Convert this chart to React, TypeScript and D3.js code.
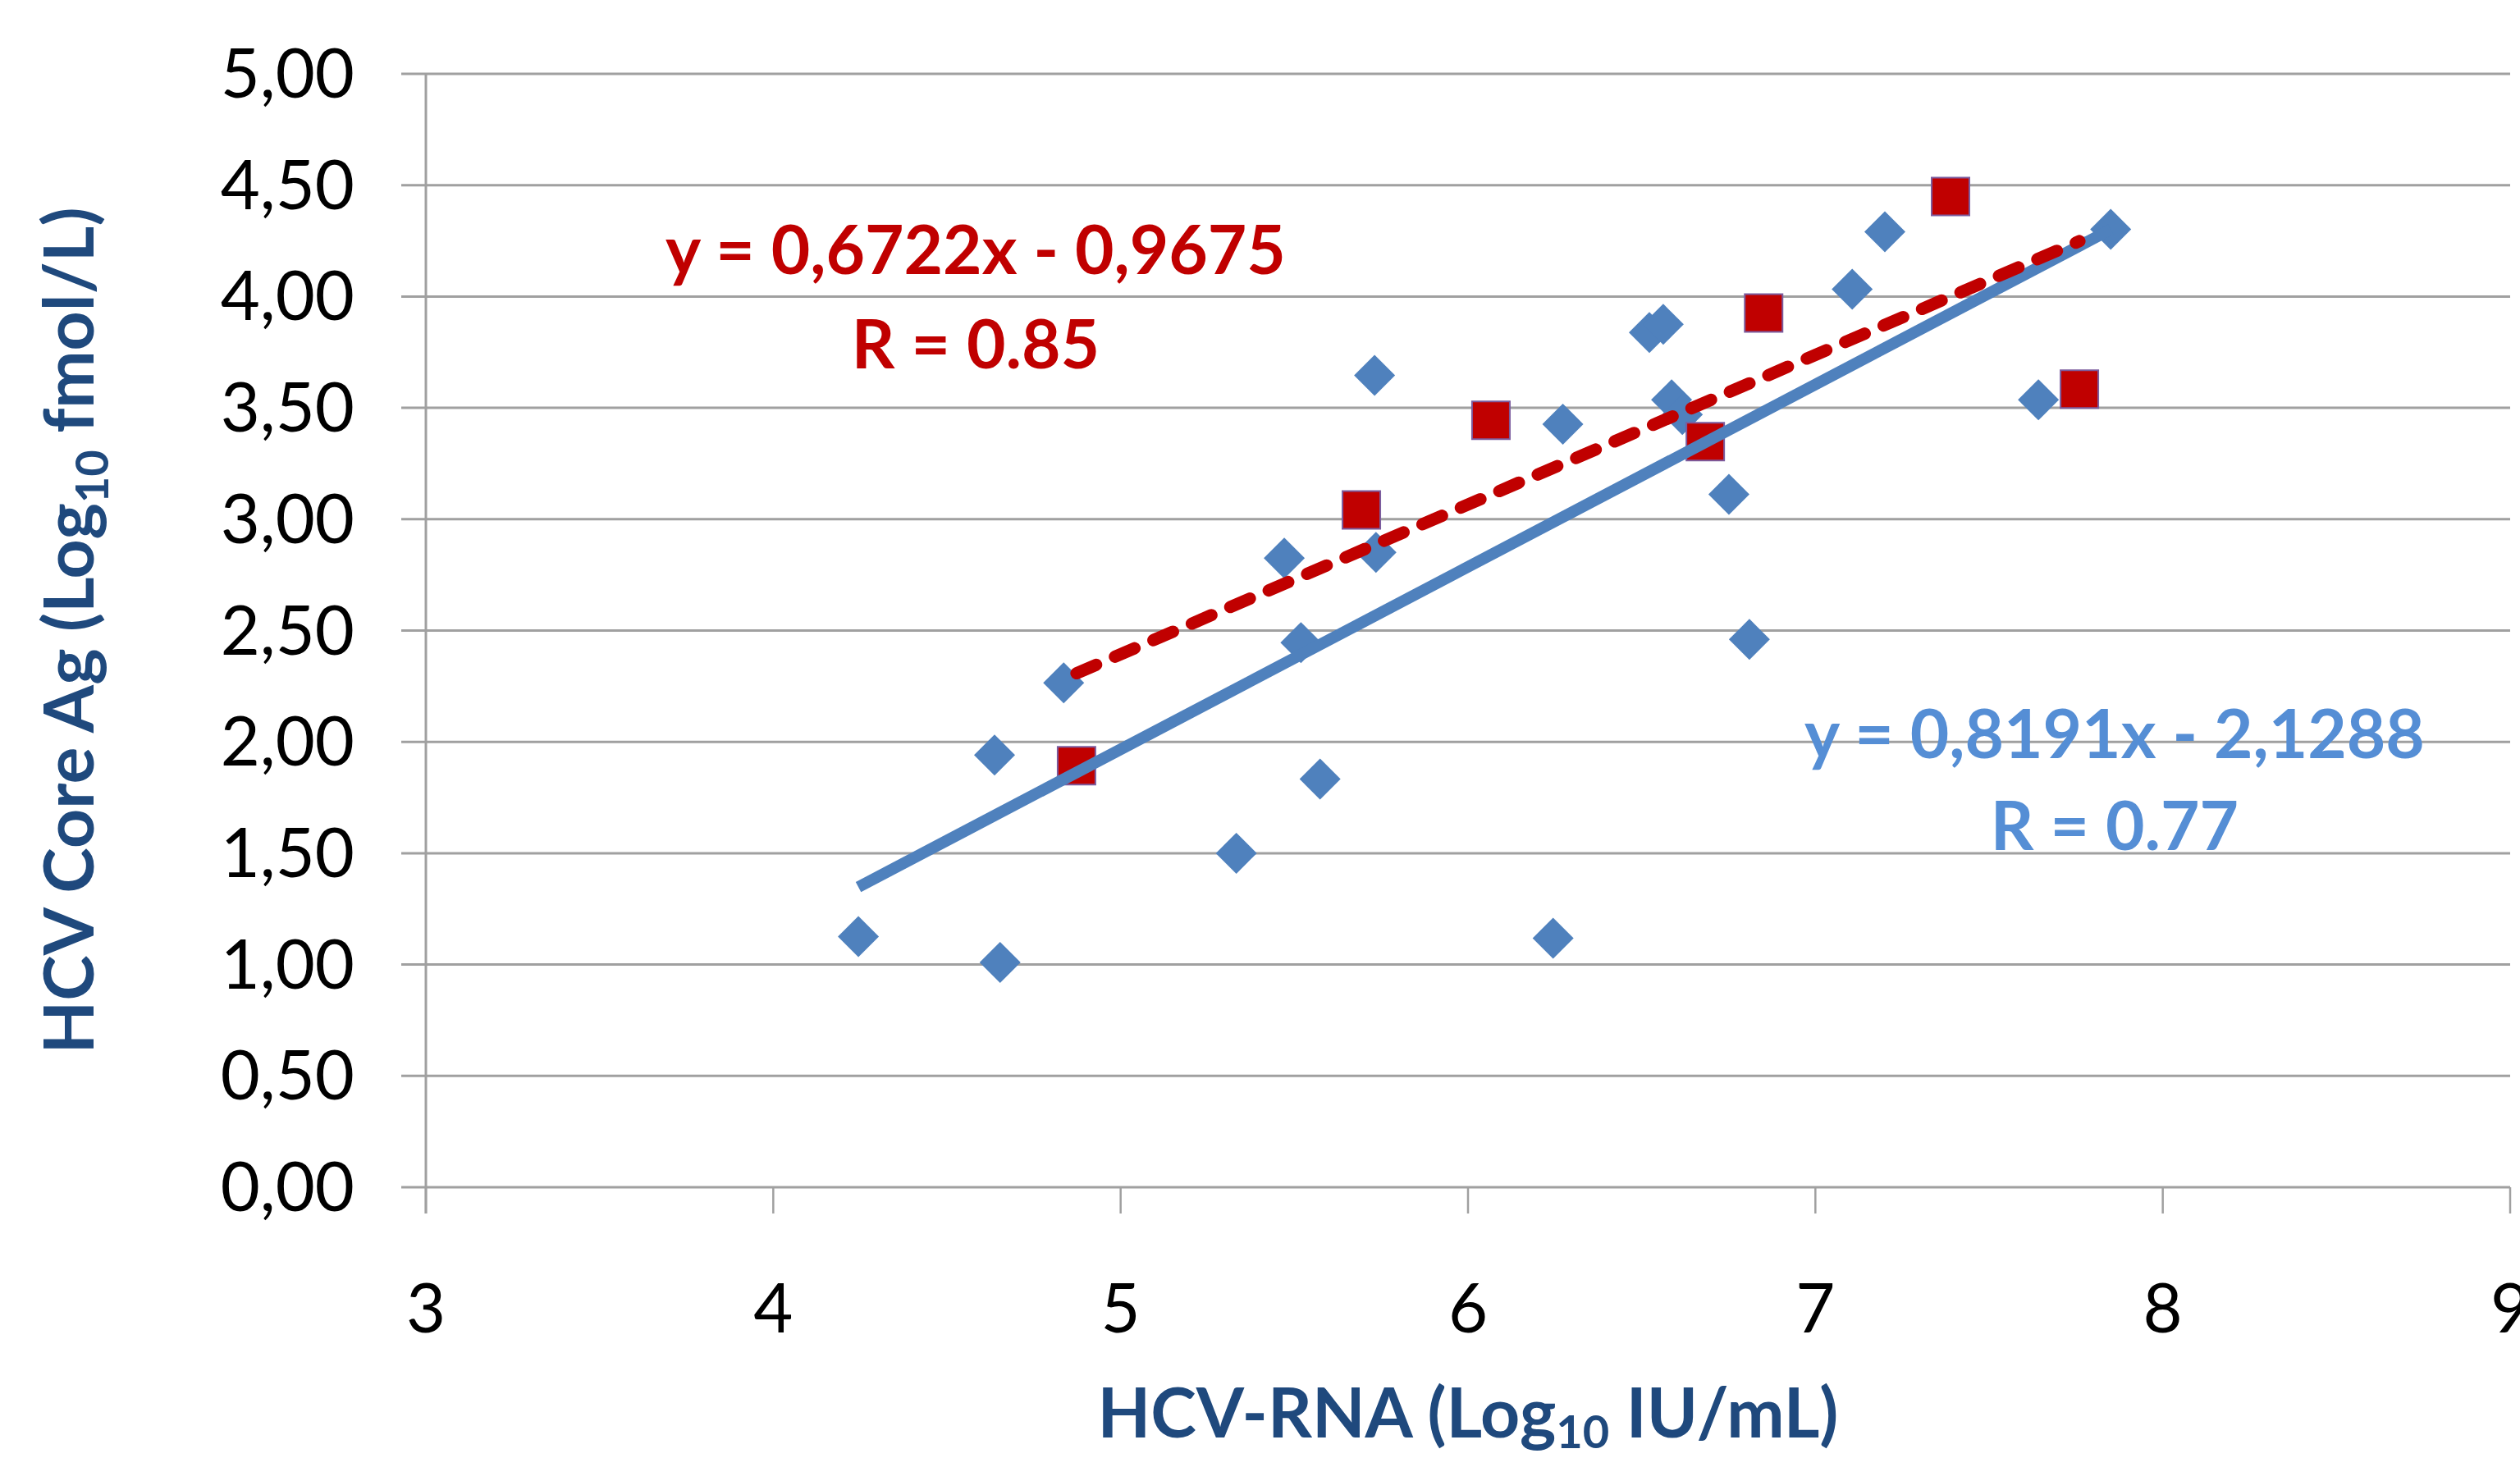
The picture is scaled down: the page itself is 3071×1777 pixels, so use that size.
import React, { useEffect, useRef } from 'react';
import * as d3 from 'd3';

// HCV-RNA (log10 IU/mL) against HCV core antigen (log10 fmol/L)
const blueX = [4.245, 4.653, 4.637, 4.836, 5.333, 5.471, 5.519, 5.574, 5.731, 5.735, 6.245, 6.273, 6.522, 6.562, 6.586, 6.617, 6.751, 6.810, 7.106, 7.200, 7.642, 7.850];
const blueY = [1.126, 1.010, 1.941, 2.265, 1.500, 2.825, 2.446, 1.833, 3.646, 2.851, 1.118, 3.427, 3.838, 3.875, 3.536, 3.470, 3.112, 2.460, 4.033, 4.291, 3.536, 4.302];
const redX = [4.873, 5.693, 6.066, 6.683, 6.851, 7.389, 7.760];
const redY = [1.893, 3.042, 3.444, 3.348, 3.926, 4.449, 3.584];

// trendlines: slope, intercept
const blueFit = [0.8191, -2.1288];
const redFit = [0.6722, -0.9675];
const blueLabel = ['y = 0,8191x - 2,1288', 'R = 0.77'];
const redLabel = ['y = 0,6722x - 0,9675', 'R = 0.85'];

const xTicks = [3, 4, 5, 6, 7, 8, 9];
const yTicks = [0, 0.5, 1, 1.5, 2, 2.5, 3, 3.5, 4, 4.5, 5];

const BLUE = '#4f81bd';
const RED = '#c00000';
const TITLE = '#1f497d';
const GRID = '#a0a0a0';
const FONT = "Lato, 'Open Sans', sans-serif";

const App = () => {
    const svgRef = useRef<SVGSVGElement>(null);

    useEffect(() => {
        const svg = d3.select(svgRef.current);
        svg.selectAll('*').remove();

        const width = 3071;
        const height = 1777;
        const margin = { top: 90, right: 12, bottom: 330, left: 519 };

        const x = d3.scaleLinear().domain([3, 9]).range([margin.left, width - margin.right]);
        const y = d3.scaleLinear().domain([0, 5]).range([height - margin.bottom, margin.top]);

        svg.append('rect').attr('width', width).attr('height', height).attr('fill', '#fff');

        // horizontal gridlines (they also act as the y ticks)
        svg.append('g')
            .selectAll('line')
            .data(yTicks)
            .join('line')
            .attr('x1', x(3) - 30)
            .attr('x2', x(9))
            .attr('y1', d => y(d))
            .attr('y2', d => y(d))
            .attr('stroke', GRID)
            .attr('stroke-width', 3);

        // y axis line, reaching down like a tick
        svg.append('line')
            .attr('x1', x(3)).attr('x2', x(3))
            .attr('y1', y(5)).attr('y2', y(0) + 32)
            .attr('stroke', GRID)
            .attr('stroke-width', 3);

        // x ticks
        svg.append('g')
            .selectAll('line')
            .data(xTicks)
            .join('line')
            .attr('x1', d => x(d))
            .attr('x2', d => x(d))
            .attr('y1', y(0))
            .attr('y2', y(0) + 32)
            .attr('stroke', GRID)
            .attr('stroke-width', 2.5);

        const fmt = d3.format('.2f');
        svg.append('g')
            .selectAll('text')
            .data(yTicks)
            .join('text')
            .attr('x', 432)
            .attr('y', d => y(d) + 29)
            .attr('text-anchor', 'end')
            .attr('font-family', FONT)
            .attr('font-size', 83)
            .attr('fill', '#000')
            .text(d => fmt(d).replace('.', ','));

        svg.append('g')
            .selectAll('text')
            .data(xTicks)
            .join('text')
            .attr('x', d => x(d))
            .attr('y', 1624)
            .attr('text-anchor', 'middle')
            .attr('font-family', FONT)
            .attr('font-size', 83)
            .attr('fill', '#000')
            .text(d => d);

        // markers
        const diamond = d3.symbol().type(d3.symbolSquare).size(1250);
        svg.append('g')
            .selectAll('path')
            .data(d3.range(blueX.length))
            .join('path')
            .attr('d', diamond)
            .attr('transform', i => `translate(${x(blueX[i])},${y(blueY[i])}) rotate(45)`)
            .attr('fill', BLUE);

        const square = d3.symbol().type(d3.symbolSquare).size(2116);
        svg.append('g')
            .selectAll('path')
            .data(d3.range(redX.length))
            .join('path')
            .attr('d', square)
            .attr('transform', i => `translate(${x(redX[i])},${y(redY[i])})`)
            .attr('fill', RED)
            .attr('stroke', '#7b5c9e')
            .attr('stroke-width', 2);

        // trendlines over the range of each series
        const line = d3.line<number>().x(d => x(d[0])).y(d => y(d[1]));
        const fitPts = (xs: number[], fit: number[]) =>
            d3.extent(xs).map(v => [v, fit[0] * v + fit[1]]);

        svg.append('path')
            .attr('d', line(fitPts(blueX, blueFit)))
            .attr('fill', 'none')
            .attr('stroke', BLUE)
            .attr('stroke-width', 14);

        svg.append('path')
            .attr('d', line(fitPts(redX, redFit)))
            .attr('fill', 'none')
            .attr('stroke', RED)
            .attr('stroke-width', 15)
            .attr('stroke-linecap', 'round')
            .attr('stroke-dasharray', '26 25');

        // equation labels
        const eq = (lines: string[], cx: number, ys: number[], color: string) => {
            svg.append('g')
                .selectAll('text')
                .data(lines)
                .join('text')
                .attr('x', cx)
                .attr('y', (_, i) => ys[i])
                .attr('text-anchor', 'middle')
                .attr('font-family', FONT)
                .attr('font-weight', 700)
                .attr('font-size', 82)
                .attr('fill', color)
                .text(d => d);
        };
        eq(redLabel, 1189, [334, 449], RED);
        eq(blueLabel, 2577, [924, 1036], '#558ed5');

        // axis titles
        const xt = svg.append('text')
            .attr('x', (x(3) + x(9)) / 2)
            .attr('y', 1752)
            .attr('text-anchor', 'middle')
            .attr('font-family', FONT)
            .attr('font-weight', 700)
            .attr('font-size', 84)
            .attr('fill', TITLE);
        xt.append('tspan').text('HCV-RNA (Log');
        xt.append('tspan').attr('dy', 13).attr('font-size', 56).text('10');
        xt.append('tspan').attr('dy', -13).text(' IU/mL)');

        const yt = svg.append('text')
            .attr('transform', `translate(114,${(y(0) + y(5)) / 2}) rotate(-90)`)
            .attr('text-anchor', 'middle')
            .attr('font-family', FONT)
            .attr('font-weight', 700)
            .attr('font-size', 84)
            .attr('fill', TITLE);
        yt.append('tspan').text('HCV Core Ag (Log');
        yt.append('tspan').attr('dy', 18).attr('font-size', 56).text('10');
        yt.append('tspan').attr('dy', -18).text(' fmol/L)');
    }, []);

    return (
        <div style={{ position: 'fixed', left: 0, top: 0, background: '#fff' }}>
            <svg ref={svgRef} width="3071" height="1777" style={{ display: 'block' }}></svg>
        </div>
    );
};

export default App;
